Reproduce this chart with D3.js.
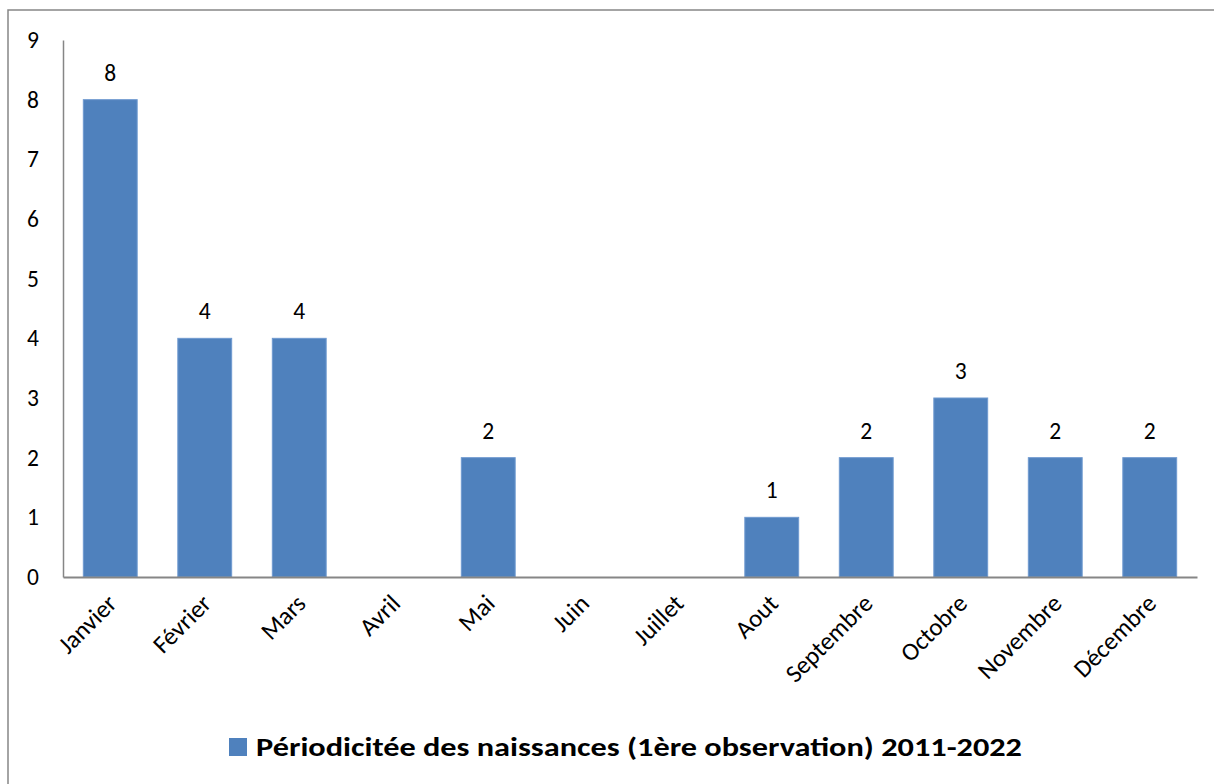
<!DOCTYPE html>
<html>
<head>
<meta charset="utf-8">
<script src="https://cdn.jsdelivr.net/npm/d3@7"></script>
<style>
  html, body { margin: 0; padding: 0; background: #ffffff; }
  svg { display: block; }
  text { font-family: Carlito, Lato, "Open Sans", sans-serif; fill: #000; }
</style>
</head>
<body>
<script>
// ---- data ----
const months = ["Janvier", "Février", "Mars", "Avril", "Mai", "Juin", "Juillet", "Aout", "Septembre", "Octobre", "Novembre", "Décembre"];
const births = [8, 4, 4, null, 2, null, null, 1, 2, 3, 2, 2];
const yTicks = [0, 1, 2, 3, 4, 5, 6, 7, 8, 9];
const seriesName = "Périodicitée des naissances (1ère observation) 2011-2022";

// ---- layout ----
const W = 1214, H = 784;
const plot = { left: 63, right: 1197, top: 40, bottom: 577 };
const barColor = "#4F81BD";
const axisColor = "#868686";

const svg = d3.select("body").append("svg").attr("width", W).attr("height", H);

// chart border (cropped at right/bottom)
svg.append("rect")
  .attr("x", 8).attr("y", 10)
  .attr("width", W + 20).attr("height", H + 20)
  .attr("fill", "#fff").attr("stroke", axisColor).attr("stroke-width", 1.5);

const x = d3.scaleBand().domain(months)
  .range([plot.left, plot.right])
  .paddingInner(0.43).paddingOuter(0.215);
const y = d3.scaleLinear().domain([0, 9]).range([plot.bottom, plot.top]);

// bars
const data = months.map((m, i) => ({ m, v: births[i] }));
svg.append("g").selectAll("rect")
  .data(data.filter(d => d.v !== null))
  .join("rect")
  .attr("x", d => x(d.m))
  .attr("y", d => y(d.v))
  .attr("width", x.bandwidth())
  .attr("height", d => y(0) - y(d.v))
  .attr("fill", barColor)
  .attr("stroke", "#6f9ad0").attr("stroke-width", 1);

// data labels
svg.append("g").selectAll("text")
  .data(data.filter(d => d.v !== null))
  .join("text")
  .attr("x", d => x(d.m) + x.bandwidth() / 2)
  .attr("y", d => y(d.v) - 27)
  .attr("text-anchor", "middle")
  .attr("dominant-baseline", "central")
  .attr("font-size", 23.5)
  .text(d => d.v);

// y axis
const yAxis = d3.axisLeft(y).tickValues(yTicks).tickSize(0).tickPadding(24).tickFormat(d3.format("d"));
const gy = svg.append("g").attr("transform", `translate(${plot.left},0)`).call(yAxis);
gy.select(".domain").attr("stroke", axisColor).attr("stroke-width", 1.5);
gy.selectAll("text").attr("font-size", 23.5).attr("font-family", "Carlito, Lato, sans-serif").attr("fill", "#000");

// x axis
const xAxis = d3.axisBottom(x).tickSize(0).tickPadding(0);
const gx = svg.append("g").attr("transform", `translate(0,${plot.bottom})`).call(xAxis);
gx.select(".domain").attr("stroke", axisColor).attr("stroke-width", 2);
gx.selectAll(".tick text")
  .attr("font-size", 25)
  .attr("font-family", "Carlito, Lato, sans-serif")
  .attr("fill", "#000")
  .attr("text-anchor", "end")
  .attr("dy", null)
  .attr("y", 0)
  .attr("transform", "translate(8,28) rotate(-45)");

// legend
const lg = svg.append("g");
lg.append("rect").attr("x", 229).attr("y", 738).attr("width", 18).attr("height", 18).attr("fill", barColor);
lg.append("text")
  .attr("x", 256).attr("y", 747)
  .attr("dominant-baseline", "central")
  .attr("font-size", 26.5)
  .attr("font-weight", "bold")
  .attr("textLength", 766)
  .attr("lengthAdjust", "spacingAndGlyphs")
  .text(seriesName);
</script>
</body>
</html>
